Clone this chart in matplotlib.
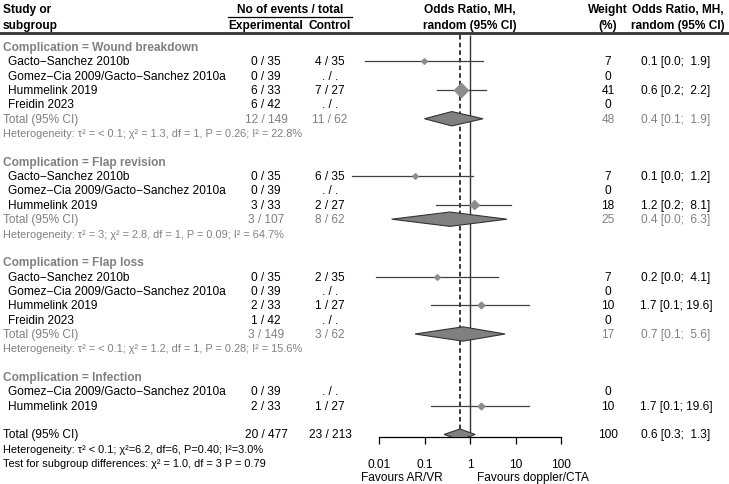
import numpy as np
import matplotlib.pyplot as plt
from matplotlib import transforms

plt.rcParams['font.family'] = ['Liberation Sans', 'DejaVu Sans']

# ---- data ----
group_names = ['Complication = Wound breakdown', 'Complication = Flap revision',
               'Complication = Flap loss', 'Complication = Infection']

study_group = [0, 0, 0, 0, 1, 1, 1, 2, 2, 2, 2, 3, 3]
study_names = ['Gacto\u2212Sanchez 2010b', 'Gomez\u2212Cia 2009/Gacto\u2212Sanchez 2010a',
               'Hummelink 2019', 'Freidin 2023',
               'Gacto\u2212Sanchez 2010b', 'Gomez\u2212Cia 2009/Gacto\u2212Sanchez 2010a',
               'Hummelink 2019',
               'Gacto\u2212Sanchez 2010b', 'Gomez\u2212Cia 2009/Gacto\u2212Sanchez 2010a',
               'Hummelink 2019', 'Freidin 2023',
               'Gomez\u2212Cia 2009/Gacto\u2212Sanchez 2010a', 'Hummelink 2019']
exp_events = ['0 / 35', '0 / 39', '6 / 33', '6 / 42',
              '0 / 35', '0 / 39', '3 / 33',
              '0 / 35', '0 / 39', '2 / 33', '1 / 42',
              '0 / 39', '2 / 33']
ctrl_events = ['4 / 35', '. / .', '7 / 27', '. / .',
               '6 / 35', '. / .', '2 / 27',
               '2 / 35', '. / .', '1 / 27', '. / .',
               '. / .', '1 / 27']
study_or = [0.098, np.nan, 0.63, np.nan, 0.062, np.nan, 1.22,
            0.19, np.nan, 1.74, np.nan, np.nan, 1.72]
study_lo = [0.005, np.nan, 0.19, np.nan, 0.0026, np.nan, 0.18,
            0.0086, np.nan, 0.14, np.nan, np.nan, 0.14]
study_hi = [1.93, np.nan, 2.2, np.nan, 1.16, np.nan, 8.1,
            4.1, np.nan, 20.0, np.nan, np.nan, 20.0]
study_weight = [7, 0, 41, 0, 7, 0, 18, 7, 0, 10, 0, 0, 10]
study_ci_text = ['0.1 [0.0;  1.9]', '', '0.6 [0.2;  2.2]', '',
                 '0.1 [0.0;  1.2]', '', '1.2 [0.2;  8.1]',
                 '0.2 [0.0;  4.1]', '', '1.7 [0.1; 19.6]', '',
                 '', '1.7 [0.1; 19.6]']

# subgroup totals (Infection has none)
sub_exp = ['12 / 149', '3 / 107', '3 / 149']
sub_ctrl = ['11 / 62', '8 / 62', '3 / 62']
sub_or = [0.40, 0.36, 0.70]
sub_lo = [0.10, 0.019, 0.062]
sub_hi = [1.93, 6.5, 5.9]
sub_weight = [48, 25, 17]
sub_ci_text = ['0.4 [0.1;  1.9]', '0.4 [0.0;  6.3]', '0.7 [0.1;  5.6]']
sub_het = ['Heterogeneity: \u03c4\u00b2 = < 0.1; \u03c7\u00b2 = 1.3, df = 1, P = 0.26; I\u00b2 = 22.8%',
           'Heterogeneity: \u03c4\u00b2 = 3; \u03c7\u00b2 = 2.8, df = 1, P = 0.09; I\u00b2 = 64.7%',
           'Heterogeneity: \u03c4\u00b2 = < 0.1; \u03c7\u00b2 = 1.2, df = 1, P = 0.28; I\u00b2 = 15.6%']

total_exp = '20 / 477'
total_ctrl = '23 / 213'
total_or, total_lo, total_hi = 0.6, 0.27, 1.3
total_weight = 100
total_ci_text = '0.6 [0.3;  1.3]'
total_het = 'Heterogeneity: \u03c4\u00b2 < 0.1; \u03c7\u00b2=6.2, df=6, P=0.40; I\u00b2=3.0%'
test_text = 'Test for subgroup differences: \u03c7\u00b2 = 1.0, df = 3 P = 0.79'

ticks = [0.01, 0.1, 1, 10, 100]
tick_labels = ['0.01', '0.1', '1', '10', '100']

# ---- layout (pixels of a 729x485 figure) ----
W, H = 729, 485
row0, drow = 48.0, 14.35
ax_top, ax_bot = 34, 438
x_center, decade = 470, 45.5
ax_left, ax_right = 340, 600

GRAY = '#808080'
DARK = '#333333'
FS = 8.6
FS_SMALL = 7.9

fig = plt.figure(figsize=(W / 100, H / 100), dpi=100)
tx = fig.add_axes([0, 0, 1, 1])
tx.set_xlim(0, W)
tx.set_ylim(H, 0)
tx.axis('off')

ax = fig.add_axes([ax_left / W, (H - ax_bot) / H, (ax_right - ax_left) / W, (ax_bot - ax_top) / H])
ax.patch.set_alpha(0)
ax.set_xscale('log')
ax.set_xlim(10 ** ((ax_left - x_center) / decade), 10 ** ((ax_right - x_center) / decade))
ax.set_ylim((ax_bot - row0) / drow, (ax_top - row0) / drow)

tr = transforms.blended_transform_factory(tx.transData, ax.transData)

# column x positions (px)
x_study = 8
x_exp = 266
x_ctrl = 330
x_weight = 608
x_ci = 676


def put(x, y, s, **kw):
    kw.setdefault('fontsize', FS)
    kw.setdefault('va', 'center')
    tx.text(x, y, s, transform=tr, **kw)


def yrow(py):
    return (py - row0) / drow


# header
put(3, yrow(10), 'Study or', fontweight='bold')
put(3, yrow(26), 'subgroup', fontweight='bold')
put(290, yrow(10), 'No of events / total', fontweight='bold', ha='center')
put(x_exp, yrow(26), 'Experimental', fontweight='bold', ha='center')
put(x_ctrl, yrow(26), 'Control', fontweight='bold', ha='center')
put(x_center, yrow(10), 'Odds Ratio, MH,', fontweight='bold', ha='center')
put(x_center, yrow(26), 'random (95% CI)', fontweight='bold', ha='center')
put(x_weight, yrow(10), 'Weight', fontweight='bold', ha='center')
put(x_weight, yrow(26), '(%)', fontweight='bold', ha='center')
put(678, yrow(10), 'Odds Ratio, MH,', fontweight='bold', ha='center')
put(678, yrow(26), 'random (95% CI)', fontweight='bold', ha='center')
tx.plot([228, 352], [yrow(18)] * 2, color='black', lw=0.9, transform=tr)
tx.plot([0, W], [yrow(34)] * 2, color=DARK, lw=2.0, transform=tr)


def diamond(est, lo, hi, y, h):
    ax.fill([lo, est, hi, est], [y, y - h, y, y + h], facecolor=GRAY,
            edgecolor=DARK, lw=0.8, zorder=4)


row = 0
for g, gname in enumerate(group_names):
    put(3, row, gname, fontweight='bold', color=GRAY)
    row += 1
    for i in [k for k, sg in enumerate(study_group) if sg == g]:
        put(x_study, row, study_names[i])
        put(x_exp, row, exp_events[i], ha='center')
        put(x_ctrl, row, ctrl_events[i], ha='center')
        put(x_weight, row, str(study_weight[i]), ha='center')
        if study_ci_text[i]:
            put(x_ci, row, study_ci_text[i], ha='center')
        if not np.isnan(study_or[i]):
            ax.plot([study_lo[i], study_hi[i]], [row, row], color='#404040', lw=0.9, zorder=3)
            ax.plot(study_or[i], row, marker='D', ms=1.08 * np.sqrt(study_weight[i]),
                    color='#8c8c8c', mec='#8c8c8c', zorder=5)
        row += 1
    if g < len(sub_or):
        put(3, row, 'Total (95% CI)', color=GRAY)
        put(x_exp, row, sub_exp[g], ha='center', color=GRAY)
        put(x_ctrl, row, sub_ctrl[g], ha='center', color=GRAY)
        put(x_weight, row, str(sub_weight[g]), ha='center', color=GRAY)
        put(x_ci, row, sub_ci_text[g], ha='center', color=GRAY)
        diamond(sub_or[g], sub_lo[g], sub_hi[g], row, 0.5)
        row += 1
        put(3, row, sub_het[g], color=GRAY, fontsize=FS_SMALL)
        row += 2
    else:
        row += 1

total_row = row
put(3, total_row, 'Total (95% CI)')
put(x_exp, total_row, total_exp, ha='center')
put(x_ctrl, total_row, total_ctrl, ha='center')
put(x_weight, total_row, str(total_weight), ha='center')
put(x_ci, total_row, total_ci_text, ha='center')
diamond(total_or, total_lo, total_hi, total_row, 0.38)
put(3, total_row + 1, total_het, fontsize=FS_SMALL)
put(3, total_row + 2, test_text, fontsize=FS_SMALL)

# reference lines
top = yrow(36)
ax.vlines(1, top, ax.get_ylim()[0], color=DARK, lw=1.0, zorder=2)
ax.vlines(total_or, top, total_row - 0.38, color='black', lw=1.1, linestyles=(0, (3, 2)), zorder=2)

# axis
for s in ['top', 'left', 'right']:
    ax.spines[s].set_visible(False)
ax.spines['bottom'].set_bounds(ticks[0], ticks[-1])
ax.spines['bottom'].set_linewidth(0.9)
ax.set_yticks([])
ax.set_xticks(ticks)
ax.set_xticklabels(tick_labels, fontsize=FS)
ax.minorticks_off()
ax.tick_params(axis='x', length=5, width=0.9, pad=10)

put(443, yrow(478), 'Favours AR/VR', ha='right')
put(477, yrow(478), 'Favours doppler/CTA', ha='left')

fig.savefig('out.png', dpi=100)
